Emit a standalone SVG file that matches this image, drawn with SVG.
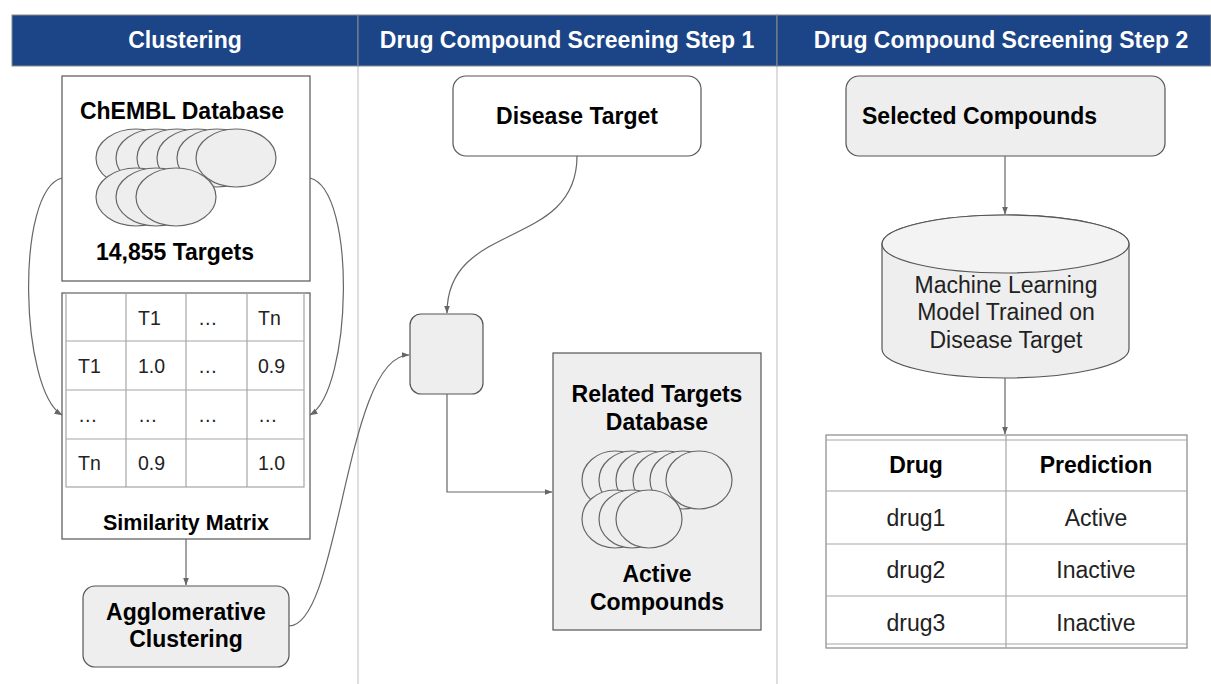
<svg xmlns="http://www.w3.org/2000/svg" width="1211" height="684" viewBox="0 0 1211 684">
<style>
.hdr{fill:#1c4587;stroke:#8a8a8a;stroke-width:1}
.ht{font-family:"Liberation Sans",Arial,sans-serif;font-weight:bold;font-size:23px;fill:#fff;text-anchor:middle}
.b{font-family:"Liberation Sans",Arial,sans-serif;font-weight:bold;font-size:23px;fill:#000;text-anchor:middle}
.r{font-family:"Liberation Sans",Arial,sans-serif;font-size:23px;fill:#222;text-anchor:middle}
.m{font-family:"Liberation Sans",Arial,sans-serif;font-size:19.5px;fill:#222}
.box{stroke:#555;stroke-width:1.2}
.g{fill:#eeeeee}
.w{fill:#fff}
.el{fill:#eeeeee;stroke:#666;stroke-width:1.2}
.grid{stroke:#a6a6a6;stroke-width:1.2;fill:none}
.con{fill:none;stroke:#666;stroke-width:1.2}
.div{stroke:#c8c8c8;stroke-width:1.2}
</style>
<defs>
<marker id="ah" markerWidth="8" markerHeight="7" refX="7.5" refY="3.5" orient="auto" markerUnits="userSpaceOnUse">
<path d="M0,0.5 L8,3.5 L0,6.5 Z" fill="#666"/>
</marker>
</defs>
<rect width="1211" height="684" fill="#fff"/>
<g id="dividers">
<line class="div" x1="358" y1="15" x2="358" y2="684"/>
<line class="div" x1="777" y1="15" x2="777" y2="684"/>
</g>
<g id="header-clustering">
<rect class="hdr" x="12" y="15" width="346" height="51"/>
<text class="ht" x="185" y="48">Clustering</text>
</g>
<g id="header-step1">
<rect class="hdr" x="358" y="15" width="419" height="51"/>
<text class="ht" x="567" y="48">Drug Compound Screening Step 1</text>
</g>
<g id="header-step2">
<rect class="hdr" x="777" y="15" width="434" height="51"/>
<text class="ht" x="1001" y="48">Drug Compound Screening Step 2</text>
</g>

<g id="chembl">
<rect class="box w" x="62" y="76" width="248" height="205"/>
<text class="b" x="182" y="119">ChEMBL Database</text>
<ellipse class="el" cx="136" cy="158" rx="40" ry="29"/>
<ellipse class="el" cx="156" cy="158" rx="40" ry="29"/>
<ellipse class="el" cx="177" cy="158" rx="40" ry="29"/>
<ellipse class="el" cx="197" cy="158" rx="40" ry="29"/>
<ellipse class="el" cx="217" cy="158" rx="40" ry="29"/>
<ellipse class="el" cx="236" cy="158" rx="40" ry="29"/>
<ellipse class="el" cx="136" cy="197" rx="40" ry="29"/>
<ellipse class="el" cx="156" cy="197" rx="40" ry="29"/>
<ellipse class="el" cx="176" cy="197" rx="40" ry="29"/>
<text class="b" x="175" y="260">14,855 Targets</text>
</g>

<g id="similarity-matrix">
<rect class="box w" x="62" y="293" width="248" height="246"/>
<rect class="grid" x="66" y="293" width="238" height="194"/>
<line class="grid" x1="66" y1="341" x2="304" y2="341"/>
<line class="grid" x1="66" y1="390" x2="304" y2="390"/>
<line class="grid" x1="66" y1="439" x2="304" y2="439"/>
<line class="grid" x1="126" y1="293" x2="126" y2="487"/>
<line class="grid" x1="186" y1="293" x2="186" y2="487"/>
<line class="grid" x1="247" y1="293" x2="247" y2="487"/>
<text class="m" x="138" y="325">T1</text>
<text class="m" x="198" y="325">…</text>
<text class="m" x="258" y="325">Tn</text>
<text class="m" x="78" y="373">T1</text>
<text class="m" x="138" y="373">1.0</text>
<text class="m" x="198" y="373">…</text>
<text class="m" x="258" y="373">0.9</text>
<text class="m" x="78" y="422">…</text>
<text class="m" x="138" y="422">…</text>
<text class="m" x="198" y="422">…</text>
<text class="m" x="258" y="422">…</text>
<text class="m" x="78" y="470">Tn</text>
<text class="m" x="138" y="470">0.9</text>
<text class="m" x="258" y="470">1.0</text>
<text class="b" x="186" y="530" style="font-size:21.5px">Similarity Matrix</text>
</g>

<g id="agglomerative">
<rect class="box g" x="83" y="586" width="206" height="81" rx="12"/>
<text class="b" x="186" y="620">Agglomerative</text>
<text class="b" x="186" y="647">Clustering</text>
</g>

<g id="disease-target">
<rect class="box w" x="453" y="76" width="248" height="80" rx="13"/>
<text class="b" x="577" y="124">Disease Target</text>
</g>

<g id="merge-node">
<rect class="box g" x="410" y="314" width="73" height="80" rx="11"/>
</g>

<g id="related-targets">
<rect class="box g" x="553" y="353" width="208" height="277"/>
<text class="b" x="657" y="402">Related Targets</text>
<text class="b" x="657" y="430">Database</text>
<ellipse class="el" cx="615" cy="480" rx="33" ry="29"/>
<ellipse class="el" cx="632" cy="480" rx="33" ry="29"/>
<ellipse class="el" cx="649" cy="480" rx="33" ry="29"/>
<ellipse class="el" cx="666" cy="480" rx="33" ry="29"/>
<ellipse class="el" cx="683" cy="480" rx="33" ry="29"/>
<ellipse class="el" cx="699" cy="480" rx="33" ry="29"/>
<ellipse class="el" cx="615" cy="519" rx="33" ry="29"/>
<ellipse class="el" cx="632" cy="519" rx="33" ry="29"/>
<ellipse class="el" cx="649" cy="519" rx="33" ry="29"/>
<text class="b" x="657" y="582">Active</text>
<text class="b" x="657" y="610">Compounds</text>
</g>

<g id="selected-compounds">
<rect class="box g" x="846" y="76" width="319" height="80" rx="13"/>
<text class="b" x="862" y="124" style="text-anchor:start">Selected Compounds</text>
</g>

<g id="ml-model">
<path class="box g" d="M882,244 A123.5,29 0 0 1 1129,244 L1129,349 A123.5,29 0 0 1 882,349 Z"/>
<path class="box" fill="#f3f3f3" d="M882,244 A123.5,29 0 0 1 1129,244 A123.5,29 0 0 1 882,244 Z"/>
<text class="r" x="1006" y="293">Machine Learning</text>
<text class="r" x="1006" y="320">Model Trained on</text>
<text class="r" x="1006" y="348">Disease Target</text>
</g>

<g id="prediction-table">
<rect x="826" y="435" width="361" height="213" fill="#fff" stroke="#888" stroke-width="1.2"/>
<line class="grid" x1="826" y1="440" x2="1187" y2="440"/>
<line class="grid" x1="826" y1="644" x2="1187" y2="644"/>
<line class="grid" x1="826" y1="491" x2="1187" y2="491"/>
<line class="grid" x1="826" y1="544" x2="1187" y2="544"/>
<line class="grid" x1="826" y1="596" x2="1187" y2="596"/>
<line class="grid" x1="1006" y1="435" x2="1006" y2="648"/>
<text class="b" x="916" y="473">Drug</text>
<text class="b" x="1096" y="473">Prediction</text>
<text class="r" x="916" y="526">drug1</text>
<text class="r" x="1096" y="526">Active</text>
<text class="r" x="916" y="578">drug2</text>
<text class="r" x="1096" y="578">Inactive</text>
<text class="r" x="916" y="631">drug3</text>
<text class="r" x="1096" y="631">Inactive</text>
</g>

<g id="connectors">
<path class="con" d="M62,178 C15,190 20,390 62,415" marker-end="url(#ah)"/>
<path class="con" d="M310,178 C357,190 352,390 310,415" marker-end="url(#ah)"/>
<path class="con" d="M186,539 L186,585" marker-end="url(#ah)"/>
<path class="con" d="M289,626 C340,626 345,355 409,355" marker-end="url(#ah)"/>
<path class="con" d="M577,156 C577,250 447,220 447,313" marker-end="url(#ah)"/>
<path class="con" d="M447,394 L447,492 L552,492" marker-end="url(#ah)"/>
<path class="con" d="M1005,156 L1005,214" marker-end="url(#ah)"/>
<path class="con" d="M1005,378 L1005,434" marker-end="url(#ah)"/>
</g>
</svg>
